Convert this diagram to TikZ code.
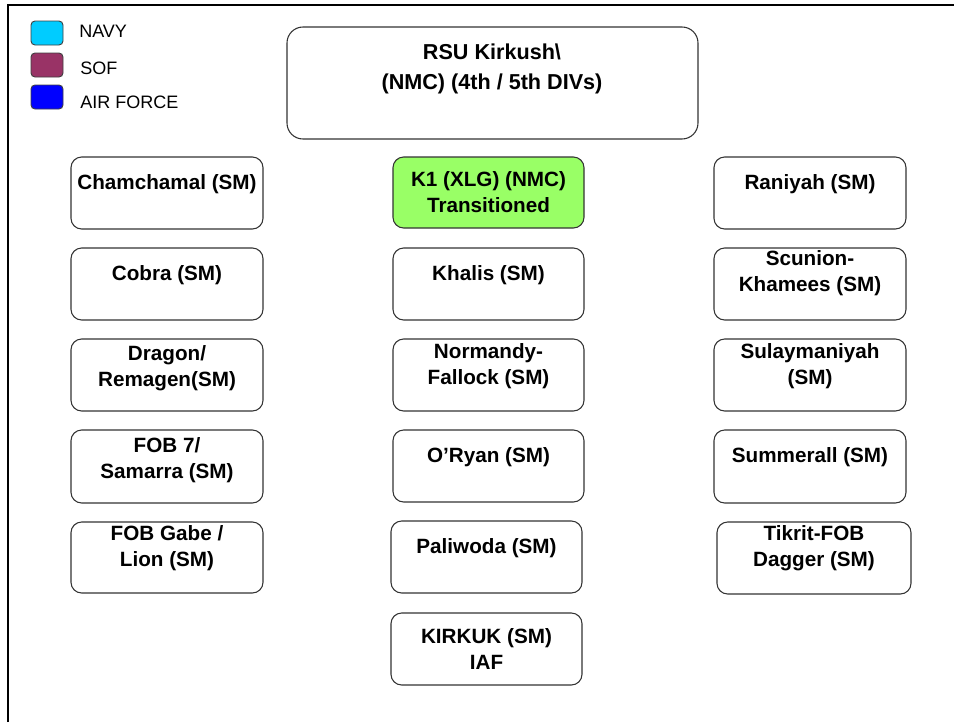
\documentclass[tikz,border=0pt]{standalone}
\usepackage{fontspec}
\setmainfont{Liberation Sans}
\usetikzlibrary{positioning}
\definecolor{navykey}{RGB}{0,204,255}
\definecolor{sofkey}{RGB}{153,51,102}
\definecolor{afkey}{RGB}{0,0,255}
\definecolor{donegreen}{RGB}{153,255,102}
\tikzset{
  sitebox/.style={draw=black!80, line width=0.8pt, rounded corners=8pt},
  sitetext/.style={inner sep=0pt, align=center, text=black,
    font=\fontsize{15.5}{19.5}\selectfont\bfseries},
  keybox/.style={draw=black!75, line width=0.7pt, rounded corners=3pt,
    minimum width=24pt, minimum height=18pt, inner sep=0pt},
  keytext/.style={inner sep=0pt, anchor=west, font=\fontsize{13.5}{16}\selectfont}
}

\begin{document}
\begin{tikzpicture}[x=0.75pt, y=-0.75pt]
\useasboundingbox (0,0) rectangle (954,722);
% Frame
\draw[line width=1.5pt] (8,722) -- (8,5) -- (954,5);

% Legend
\node[keybox, fill=navykey] (navybox) at (47,33) {};
\node[keybox, fill=sofkey] (sofbox) at (47,65) {};
\node[keybox, fill=afkey] (afbox) at (47,97) {};
\node[keytext] (navylbl) at (79,31) {NAVY};
\node[keytext] (soflbl) at (80,68) {SOF};
\node[keytext] (aflbl) at (80,102) {AIR FORCE};

% Headquarters
\draw[sitebox, rounded corners=12pt] (287,27) rectangle (698,139);
\node[sitetext, font=\fontsize{16.2}{22.5}\selectfont\bfseries] (rsu) at (492,69) {RSU Kirkush\textbackslash\\(NMC) (4th / 5th DIVs)};

% Left column
\draw[sitebox] (71,157) rectangle (263,229) node[sitetext, pos=.5, yshift=7pt] (cham) {Chamchamal (SM)};
\draw[sitebox] (71,248) rectangle (263,320) node[sitetext, pos=.5, yshift=7pt] (cobra) {Cobra (SM)};
\draw[sitebox] (71,339) rectangle (263,411) node[sitetext, pos=.5, yshift=5pt] (dragon) {Dragon/\\Remagen(SM)};
\draw[sitebox] (71,430) rectangle (263,503) node[sitetext, pos=.5, yshift=5pt] (fob7) {FOB 7/\\Samarra (SM)};
\draw[sitebox] (71,522) rectangle (263,593) node[sitetext, pos=.5, yshift=7pt] (gabe) {FOB Gabe /\\Lion (SM)};

% Middle column
\draw[sitebox, fill=donegreen] (393,157) rectangle (584,228) node[sitetext, pos=.5] (kone) {K1 (XLG) (NMC)\\Transitioned};
\draw[sitebox] (393,248) rectangle (584,320) node[sitetext, pos=.5, yshift=7pt] (khalis) {Khalis (SM)};
\draw[sitebox] (393,339) rectangle (584,411) node[sitetext, pos=.5, yshift=7pt] (normandy) {Normandy-\\Fallock (SM)};
\draw[sitebox] (393,430) rectangle (584,502) node[sitetext, pos=.5, yshift=7pt] (oryan) {O’Ryan (SM)};
\draw[sitebox] (391,521) rectangle (582,593) node[sitetext, pos=.5, yshift=7pt] (paliwoda) {Paliwoda (SM)};
\draw[sitebox] (391,613) rectangle (582,685) node[sitetext, pos=.5] (kirkuk) {KIRKUK (SM)\\IAF};

% Right column
\draw[sitebox] (714,157) rectangle (906,229) node[sitetext, pos=.5, yshift=7pt] (raniyah) {Raniyah (SM)};
\draw[sitebox] (714,248) rectangle (906,320) node[sitetext, pos=.5, yshift=8pt] (scunion) {Scunion-\\Khamees (SM)};
\draw[sitebox] (714,339) rectangle (906,411) node[sitetext, pos=.5, yshift=7pt] (sulay) {Sulaymaniyah\\(SM)};
\draw[sitebox] (714,430) rectangle (906,503) node[sitetext, pos=.5, yshift=7pt] (summerall) {Summerall (SM)};
\draw[sitebox] (717,522) rectangle (911,594) node[sitetext, pos=.5, yshift=7pt] (tikrit) {Tikrit-FOB\\Dagger (SM)};
\end{tikzpicture}
\end{document}
